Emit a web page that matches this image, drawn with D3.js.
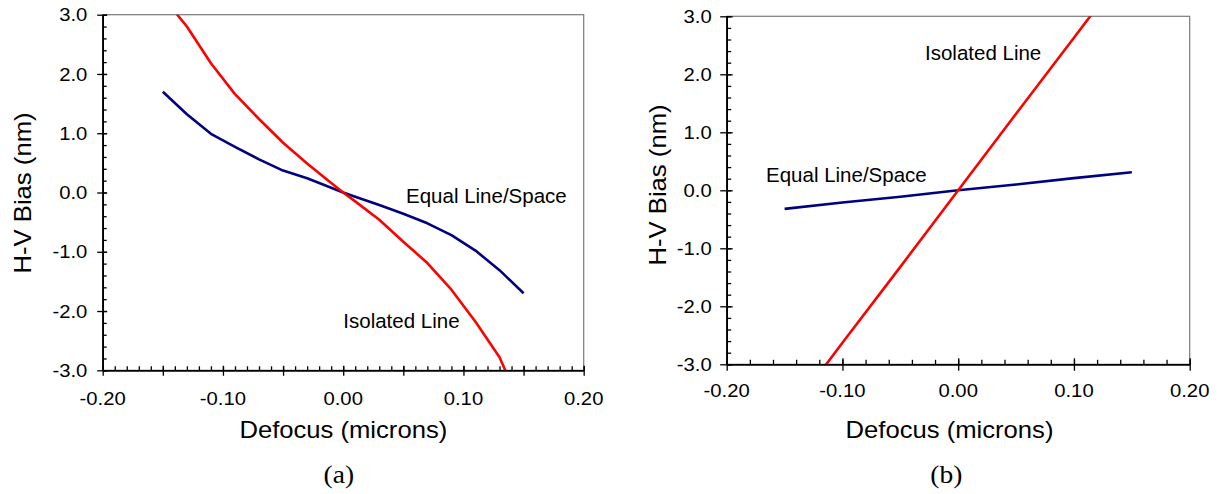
<!DOCTYPE html>
<html>
<head>
<meta charset="utf-8">
<script src="https://cdn.jsdelivr.net/npm/d3@7"></script>
<style>
  html, body { margin: 0; padding: 0; background: #fff; }
  svg { display: block; }
  text { font-family: "Liberation Sans", Arial, sans-serif; fill: #000; }
</style>
</head>
<body>
<svg id="chart" width="1223" height="494"></svg>
<script>
// ---------- data ----------
// Panel (a)
const defocusA = [-0.15, -0.13, -0.11, -0.09, -0.07, -0.05, -0.03, -0.01, 0.00, 0.01, 0.03, 0.05, 0.07, 0.09, 0.11, 0.13, 0.15];
const equalLineSpaceA = [1.70, 1.32, 0.99, 0.77, 0.56, 0.37, 0.24, 0.08, 0.00, -0.07, -0.21, -0.36, -0.52, -0.72, -0.98, -1.31, -1.70];
const isolatedLineA = [3.30, 2.80, 2.18, 1.66, 1.24, 0.84, 0.49, 0.16, 0.00, -0.15, -0.46, -0.83, -1.19, -1.64, -2.18, -2.78, -3.70];

// Panel (b)
const defocusB = [-0.15, -0.10, -0.05, 0.00, 0.05, 0.10, 0.15];
const equalLineSpaceB = [-0.32, -0.21, -0.11, 0.00, 0.10, 0.21, 0.31];
const isolatedLineB = [-3.95, -2.63, -1.32, 0.00, 1.32, 2.63, 3.95];

// Tick values / labels
const xTickValues = [-0.20, -0.10, 0.00, 0.10, 0.20];
const xTickLabels = ["-0.20", "-0.10", "0.00", "0.10", "0.20"];
const yTickValues = [-3, -2, -1, 0, 1, 2, 3];
const yTickLabels = ["-3.0", "-2.0", "-1.0", "0.0", "1.0", "2.0", "3.0"];
const xMajorA = [-0.20, -0.15, -0.10, -0.05, 0.00, 0.05, 0.10, 0.15, 0.20];
const xMinorA = d3.range(-20, 21).map(i => i / 100);
const xMajorB = [-0.20, -0.10, 0.00, 0.10, 0.20];
const xMinorB = d3.range(-10, 11).map(i => i / 50);
const yMinor = d3.range(-15, 16).map(i => i / 5);

const xTitle = "Defocus (microns)";
const yTitle = "H-V Bias (nm)";
const seriesNames = ["Equal Line/Space", "Isolated Line"];
const panelLabels = ["(a)", "(b)"];

// ---------- layout ----------
const svg = d3.select("#chart");
const NAVY = "#000080", RED = "#ff0000";

const panels = [
  {
    id: "a", xr: [102.7, 583.7], yr: [370.3, 14.7],
    defocus: defocusA, equal: equalLineSpaceA, iso: isolatedLineA,
    xMajor: xMajorA, xMinor: xMinorA,
    majOut: 5.5, majIn: 4.5, minIn: 4,
    xLabBase: 34.7, yLabRight: 87.3,
    xTitleX: 343.3, yTitleX: 31, yTitleY: 193,
    panelLabelX: 338.8,
    eqLabel: [406, 203.3], isoLabel: [343.3, 328.3]
  },
  {
    id: "b", xr: [726.7, 1189.7], yr: [364.3, 16.3],
    defocus: defocusB, equal: equalLineSpaceB, iso: isolatedLineB,
    xMajor: xMajorB, xMinor: xMinorB,
    majOut: 6.5, majIn: 6, minIn: 4.5,
    xLabBase: 32.4, yLabRight: 711.7,
    xTitleX: 949.5, yTitleX: 666, yTitleY: 185,
    panelLabelX: 946.3,
    eqLabel: [766, 182], isoLabel: [925, 60]
  }
];

const TICK_FS = 18.6, TICK_SX = 1.09;
const TITLE_FS = 23.3, TITLE_SX = 1.1;

panels.forEach((p, pi) => {
  const x = d3.scaleLinear().domain([-0.2, 0.2]).range(p.xr);
  const y = d3.scaleLinear().domain([-3, 3]).range(p.yr);
  const g = svg.append("g").attr("class", "panel-" + p.id);
  const x0 = p.xr[0], x1 = p.xr[1], yBot = p.yr[0], yTop = p.yr[1];

  // frame (top & right, grey)
  g.append("rect")
    .attr("x", x0).attr("y", yTop)
    .attr("width", x1 - x0).attr("height", yBot - yTop)
    .attr("fill", "none").attr("stroke", "#7a7a7a").attr("stroke-width", 1.2);

  // clip
  g.append("clipPath").attr("id", "clip-" + p.id)
    .append("rect").attr("x", x0).attr("y", yTop)
    .attr("width", x1 - x0).attr("height", yBot - yTop);

  // lines
  const line = d3.line().x(d => x(d[0])).y(d => y(d[1]));
  const lg = g.append("g").attr("clip-path", `url(#clip-${p.id})`);
  lg.append("path").datum(p.defocus.map((d, i) => [d, p.equal[i]]))
    .attr("d", line).attr("fill", "none").attr("stroke", NAVY)
    .attr("stroke-width", 2.6).attr("stroke-linejoin", "round");
  lg.append("path").datum(p.defocus.map((d, i) => [d, p.iso[i]]))
    .attr("d", line).attr("fill", "none").attr("stroke", RED)
    .attr("stroke-width", 2.6).attr("stroke-linejoin", "round");

  // x axis minor ticks
  const xMinG = g.append("g").attr("transform", `translate(0,${yBot})`)
    .call(d3.axisBottom(x).tickValues(p.xMinor).tickSize(-p.minIn).tickSizeOuter(0).tickFormat(""));
  // x axis major ticks (crossing the axis)
  const xMajG = g.append("g").attr("transform", `translate(0,${yBot})`)
    .call(d3.axisBottom(x).tickValues(p.xMajor).tickSize(p.majOut).tickSizeOuter(0).tickFormat(""));
  xMajG.selectAll(".tick line").attr("y1", -p.majIn);

  // y axis minor & major
  const yMinG = g.append("g").attr("transform", `translate(${x0},0)`)
    .call(d3.axisLeft(y).tickValues(yMinor).tickSize(-p.minIn).tickSizeOuter(0).tickFormat(""));
  const yMajG = g.append("g").attr("transform", `translate(${x0},0)`)
    .call(d3.axisLeft(y).tickValues(yTickValues).tickSize(p.majOut).tickSizeOuter(0).tickFormat(""));
  yMajG.selectAll(".tick line").attr("x1", p.majIn);

  [xMinG, xMajG, yMinG, yMajG].forEach(ax => {
    ax.selectAll(".tick line").attr("stroke", "#000").attr("stroke-width", 1.3);
    ax.select(".domain").attr("stroke", "#000").attr("stroke-width", 1.6);
  });

  // tick labels
  xTickValues.forEach((v, i) => {
    g.append("text")
      .attr("transform", `translate(${x(v)},${yBot + p.xLabBase}) scale(${TICK_SX},1)`)
      .attr("text-anchor", "middle").attr("font-size", TICK_FS)
      .text(xTickLabels[i]);
  });
  yTickValues.forEach((v, i) => {
    g.append("text")
      .attr("transform", `translate(${p.yLabRight},${y(v) + 6.7}) scale(${TICK_SX},1)`)
      .attr("text-anchor", "end").attr("font-size", TICK_FS)
      .text(yTickLabels[i]);
  });

  // axis titles
  g.append("text")
    .attr("transform", `translate(${p.xTitleX},438) scale(${TITLE_SX},1)`)
    .attr("text-anchor", "middle").attr("font-size", TITLE_FS)
    .text(xTitle);
  g.append("text")
    .attr("transform", `translate(${p.yTitleX},${p.yTitleY}) rotate(-90) scale(1.07,1)`)
    .attr("text-anchor", "middle").attr("font-size", 24)
    .text(yTitle);

  // series labels
  g.append("text").attr("x", p.eqLabel[0]).attr("y", p.eqLabel[1])
    .attr("font-size", 20.5).text(seriesNames[0]);
  g.append("text").attr("x", p.isoLabel[0]).attr("y", p.isoLabel[1])
    .attr("font-size", 20.5).text(seriesNames[1]);

  // panel label
  g.append("text")
    .attr("transform", `translate(${p.panelLabelX},483.3) scale(1.1,1)`)
    .attr("text-anchor", "middle").attr("font-size", 25)
    .style("font-family", "'Liberation Serif', 'Times New Roman', serif")
    .text(panelLabels[pi]);
});
</script>
</body>
</html>
